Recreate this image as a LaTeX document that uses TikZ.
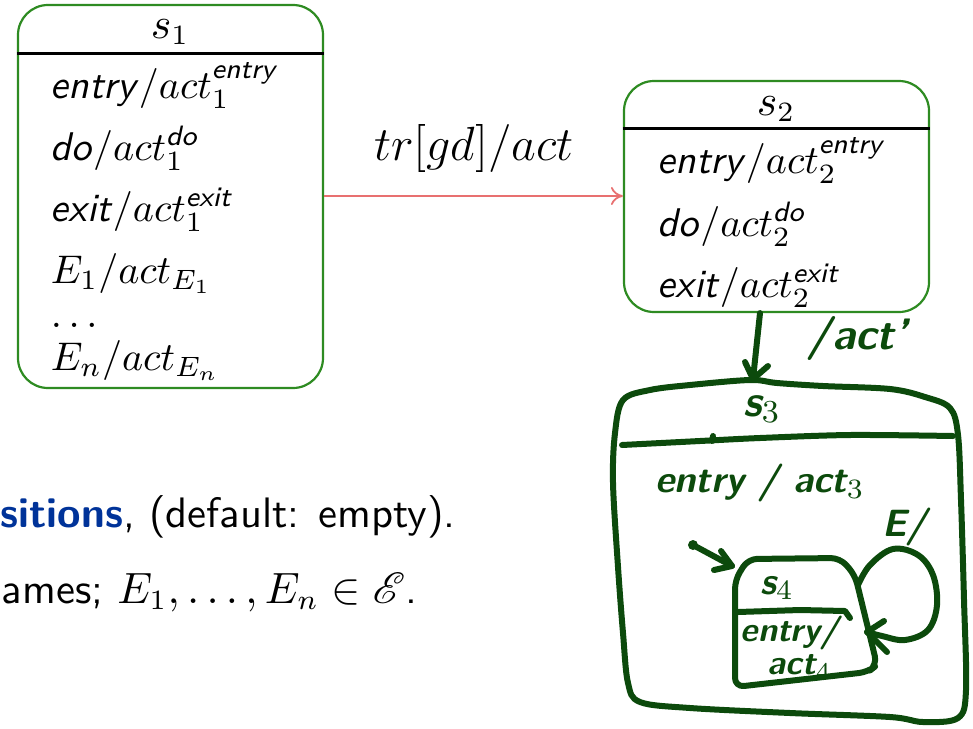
\documentclass[tikz,border=0pt]{standalone}
\usepackage{fontspec}
\usepackage{amsmath}
\usepackage{mathrsfs}
\usetikzlibrary{arrows.meta}
\definecolor{stgreen}{RGB}{46,139,34}
\definecolor{trred}{RGB}{232,112,112}
\definecolor{inkgreen}{RGB}{12,74,12}
\definecolor{structblue}{RGB}{0,51,153}
\newcommand{\kw}[1]{\textsf{\itshape #1}}
\tikzset{
  stbox/.style={draw=stgreen, line width=0.55pt, rounded corners=7.5pt, inner sep=0pt},
  hdr/.style={line width=0.75pt},
  boxtext/.style={anchor=base west, inner sep=0pt, font=\fontsize{10}{12}\selectfont\sffamily},
  boxtitle/.style={anchor=base, inner sep=0pt, font=\fontsize{10.5}{12}\selectfont},
  bodytext/.style={anchor=base west, inner sep=0pt, font=\fontsize{10.65}{12.8}\selectfont\sffamily},
  ink/.style={draw=inkgreen, line width=1.5pt, line cap=round, line join=round},
  inktext/.style={text=inkgreen, inner sep=0pt, font=\fontsize{9.5}{11}\selectfont\sffamily\bfseries\itshape},
  inkbig/.style={inktext, font=\fontsize{11}{13}\selectfont\sffamily\bfseries\itshape},
  inksmall/.style={inktext, font=\fontsize{8.5}{10}\selectfont\sffamily\bfseries\itshape},
}
\begin{document}
\begin{tikzpicture}[x=0.25pt, y=-0.25pt]
\useasboundingbox (0,0) rectangle (973,728);

% state s1
\node[stbox, minimum width=76.25pt, minimum height=95.75pt] (s1) at (170.5,196.5) {};
\draw[hdr] (s1.west |- 0,53) -- (s1.east |- 0,53);
\node[boxtitle] (s1t) at (170,38) {$s_1$};
\node[boxtext] (s1a) at (50,98)  {\kw{entry}$/act_1^{\kw{entry}}$};
\node[boxtext] (s1b) at (50,160) {\kw{do}$/act_1^{\kw{do}}$};
\node[boxtext] (s1c) at (50,221) {\kw{exit}$/act_1^{\kw{exit}}$};
\node[boxtext] (s1d) at (50,283) {$E_1/act_{E_1}$};
\node[boxtext] (s1e) at (50,327) {$\ldots$};
\node[boxtext] (s1f) at (50,370) {$E_n/act_{E_n}$};

% state s2
\node[stbox, minimum width=76.25pt, minimum height=57.75pt] (s2) at (776.5,196.5) {};
\draw[hdr] (s2.west |- 0,128) -- (s2.east |- 0,128);
\node[boxtitle] (s2t) at (776,115) {$s_2$};
\node[boxtext] (s2a) at (657,173) {\kw{entry}$/act_2^{\kw{entry}}$};
\node[boxtext] (s2b) at (657,236) {\kw{do}$/act_2^{\kw{do}}$};
\node[boxtext] (s2c) at (657,297) {\kw{exit}$/act_2^{\kw{exit}}$};

% transition s1 -> s2
\draw[trred, line width=0.45pt, -{To[length=3pt,width=4.5pt]}] (s1.east |- 0,196) -- (s2.west |- 0,196);
\node[anchor=base, inner sep=0pt, font=\fontsize{12.6}{14}\selectfont] (trl) at (474,160) {$tr[gd]/act$};

% text lines below
\node[bodytext] (l1) at (0,527) {\textbf{\color{structblue}sitions}, (default: empty).};
\node[bodytext] (l2) at (1,603) {ames; $E_1,\ldots,E_n\in\mathscr{E}$.};

% hand-drawn composite state s3
\coordinate (s3top) at (753,379);
\draw[ink] plot[smooth cycle, tension=0.55] coordinates {
  (623,400) (650,390) (690,385) (750,380) (777,383) (823,386) (890,389) (925,397)
  (950,408) (958,435) (961,500) (964,600) (966,690) (958,718) (923,722) (890,717)
  (790,713) (690,708) (640,702) (628,683) (623,633) (618,567) (613,483) (615,433)};
\draw[ink] plot[smooth, tension=0.5] coordinates {(622,445) (700,441) (760,438) (850,435) (953,436)};
\draw[ink] (712,441) -- (713,436);
\node[inkbig] (s3t) at (762,409) {s$_3$};
\node[inktext] (s3e) at (760,483) {entry / act$_3$};

% transition out of s2 into s3
\draw[ink] (s2.south -| 760,0) -- (s3top);
\draw[ink] (745,362) -- (s3top) -- (768,366);
\node[inkbig] (s3l) at (858,338) {/act'};

% hand-drawn sub-state s4
\draw[ink, rounded corners=2.25pt] (735,687) -- (735,580) -- (748,559) -- (840,558) -- (855,575) -- (877,665) -- (868,672) -- cycle;
\draw[ink] (738,612) -- (800,610) -- (845,611) -- (850,618);
\node[inktext] (s4t) at (777,588) {s$_4$};
\node[inksmall] (s4e) at (790,633) {entry/};
\node[inksmall] (s4a) at (800,667) {act$_4$};

% initial pseudo state
\coordinate (ini) at (693,545);
\coordinate (initip) at (732,566);
\fill[inkgreen] (ini) circle (1.25pt);
\draw[ink] (ini) -- (initip);
\draw[ink] (721,551) -- (initip) -- (714,570);

% self loop on s4
\coordinate (lptip) at (867,632);
\draw[ink] plot[smooth, tension=0.6] coordinates {(858,585) (870,565) (893,549) (918,555) (933,575) (937,605) (928,630) (905,640) (882,636) (867,632)};
\draw[ink] (884,621) -- (lptip) -- (887,652);
\node[inktext] (lpl) at (905,527) {E/};
\end{tikzpicture}
\end{document}
